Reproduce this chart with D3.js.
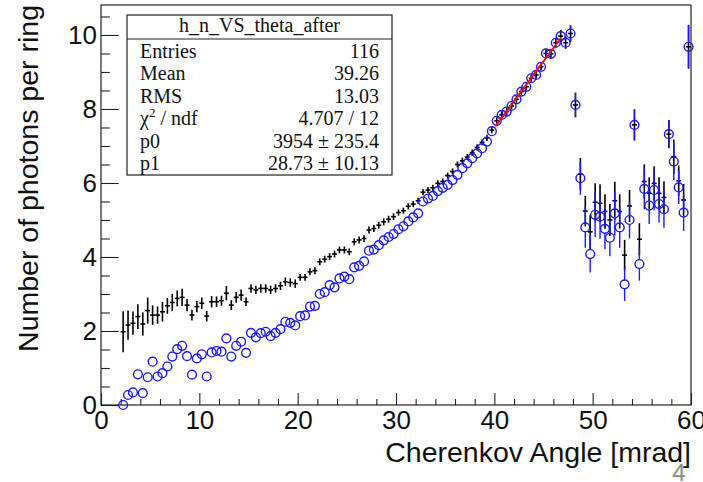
<!DOCTYPE html>
<html>
<head>
<meta charset="utf-8">
<script src="https://cdn.jsdelivr.net/npm/d3@7"></script>
<style>
  html, body { margin: 0; padding: 0; background: #ffffff; }
  svg { display: block; }
</style>
</head>
<body>
<svg id="chart" width="703" height="482"></svg>
<script>
// Bin centres of the Cherenkov angle histograms (0.5 mrad bins)
const angle = [
  2.25, 2.75, 3.25, 3.75, 4.25, 4.75, 5.25, 5.75, 6.25, 6.75,
  7.25, 7.75, 8.25, 8.75, 9.25, 9.75, 10.25, 10.75, 11.25, 11.75,
  12.25, 12.75, 13.25, 13.75, 14.25, 14.75, 15.25, 15.75, 16.25, 16.75,
  17.25, 17.75, 18.25, 18.75, 19.25, 19.75, 20.25, 20.75, 21.25, 21.75,
  22.25, 22.75, 23.25, 23.75, 24.25, 24.75, 25.25, 25.75, 26.25, 26.75,
  27.25, 27.75, 28.25, 28.75, 29.25, 29.75, 30.25, 30.75, 31.25, 31.75,
  32.25, 32.75, 33.25, 33.75, 34.25, 34.75, 35.25, 35.75, 36.25, 36.75,
  37.25, 37.75, 38.25, 38.75, 39.25, 39.75, 40.25, 40.75, 41.25, 41.75,
  42.25, 42.75, 43.25, 43.75, 44.25, 44.75, 45.25, 45.75, 46.25, 46.75,
  47.25, 47.75, 48.25, 48.75, 49.25, 49.75, 50.25, 50.75, 51.25, 51.75,
  52.25, 52.75, 53.25, 53.75, 54.25, 54.75, 55.25, 55.75, 56.25, 56.75,
  57.25, 57.75, 58.25, 58.75, 59.25, 59.75
];

// Photons per ring before the correction (black crosses)
const nBefore = [
  1.98, 2.16, 2.21, 2.39, 2.19, 2.55, 2.43, 2.43, 2.52, 2.68,
  2.77, 2.88, 2.91, 2.70, 2.43, 2.66, 2.75, 2.40, 2.79, 2.79,
  2.82, 3.02, 2.70, 2.91, 2.97, 2.79, 3.15, 3.11, 3.15, 3.15,
  3.11, 3.15, 3.22, 3.33, 3.31, 3.28, 3.45, 3.45, 3.60, 3.63,
  3.87, 3.94, 4.01, 4.08, 4.19, 4.19, 4.14, 4.41, 4.46, 4.50,
  4.73, 4.77, 4.86, 4.95, 5.02, 5.09, 5.20, 5.25, 5.37, 5.43,
  5.52, 5.75, 5.81, 5.87, 5.99, 6.04, 6.20, 6.31, 6.50, 6.60,
  6.70, 6.82, 6.96, 7.10, 7.22, 7.43, 7.68, 7.84, 7.93, 8.08,
  8.26, 8.47, 8.60, 8.83, 8.92, 9.14, 9.50, 9.49, 9.79, 9.97,
  9.79, 10.04, 8.11, 6.24, 5.24, 4.68, 5.48, 5.45, 5.23, 5.00,
  5.52, 5.23, 4.05, 5.38, 7.57, 4.48, 6.04, 5.72, 5.99, 5.72,
  5.61, 7.32, 6.71, 6.06, 5.54, 9.68
];
const errBefore = [
  0.54, 0.38, 0.30, 0.32, 0.30, 0.34, 0.25, 0.22, 0.25, 0.20,
  0.22, 0.20, 0.22, 0.15, 0.13, 0.14, 0.14, 0.13, 0.14, 0.13,
  0.12, 0.18, 0.12, 0.13, 0.14, 0.10, 0.10, 0.10, 0.10, 0.10,
  0.10, 0.10, 0.10, 0.10, 0.10, 0.10, 0.08, 0.08, 0.08, 0.08,
  0.08, 0.08, 0.08, 0.08, 0.08, 0.08, 0.08, 0.08, 0.08, 0.08,
  0.08, 0.08, 0.08, 0.08, 0.08, 0.08, 0.07, 0.07, 0.07, 0.07,
  0.07, 0.07, 0.07, 0.07, 0.07, 0.07, 0.07, 0.07, 0.07, 0.07,
  0.07, 0.07, 0.07, 0.07, 0.07, 0.07, 0.08, 0.08, 0.08, 0.08,
  0.08, 0.08, 0.08, 0.08, 0.08, 0.08, 0.10, 0.10, 0.12, 0.15,
  0.15, 0.21, 0.32, 0.42, 0.40, 0.45, 0.50, 0.50, 0.45, 0.42,
  0.50, 0.45, 0.40, 0.42, 0.41, 0.42, 0.45, 0.42, 0.45, 0.42,
  0.42, 0.37, 0.45, 0.40, 0.42, 0.58
];

// Photons per ring after the correction (blue circles)
const nAfter = [
  0.00, 0.27, 0.34, 0.83, 0.32, 0.75, 1.17, 0.77, 0.86, 1.04,
  1.31, 1.51, 1.60, 1.32, 0.82, 1.26, 1.37, 0.77, 1.42, 1.46,
  1.44, 1.80, 1.31, 1.60, 1.71, 1.41, 1.95, 1.83, 1.94, 1.98,
  1.86, 1.95, 2.05, 2.25, 2.22, 2.15, 2.40, 2.42, 2.66, 2.68,
  3.00, 3.05, 3.24, 3.18, 3.42, 3.47, 3.40, 3.72, 3.76, 3.88,
  4.17, 4.20, 4.32, 4.45, 4.54, 4.62, 4.75, 4.83, 4.96, 5.07,
  5.18, 5.50, 5.58, 5.65, 5.78, 5.87, 5.95, 6.08, 6.22, 6.40,
  6.53, 6.67, 6.80, 6.94, 7.12, 7.40, 7.68, 7.84, 7.93, 8.08,
  8.26, 8.47, 8.60, 8.83, 8.92, 9.14, 9.50, 9.49, 9.79, 9.97,
  9.79, 10.04, 8.11, 6.13, 4.80, 4.08, 5.14, 5.09, 4.76, 4.52,
  5.18, 4.80, 3.26, 5.00, 7.57, 3.81, 5.84, 5.39, 5.81, 5.43,
  5.29, 7.32, 6.58, 5.88, 5.20, 9.68
];
const errAfter = [
  0.05, 0.05, 0.05, 0.05, 0.05, 0.05, 0.05, 0.05, 0.05, 0.05,
  0.05, 0.05, 0.05, 0.05, 0.05, 0.05, 0.05, 0.05, 0.05, 0.05,
  0.05, 0.05, 0.05, 0.05, 0.05, 0.05, 0.05, 0.05, 0.05, 0.05,
  0.05, 0.05, 0.05, 0.05, 0.05, 0.05, 0.05, 0.05, 0.05, 0.05,
  0.05, 0.05, 0.05, 0.05, 0.05, 0.05, 0.05, 0.05, 0.05, 0.05,
  0.05, 0.05, 0.05, 0.05, 0.05, 0.05, 0.06, 0.06, 0.06, 0.06,
  0.06, 0.06, 0.06, 0.06, 0.06, 0.06, 0.07, 0.07, 0.07, 0.07,
  0.07, 0.07, 0.07, 0.07, 0.07, 0.07, 0.08, 0.08, 0.08, 0.08,
  0.08, 0.08, 0.08, 0.08, 0.08, 0.08, 0.10, 0.10, 0.12, 0.15,
  0.15, 0.21, 0.32, 0.45, 0.55, 0.50, 0.60, 0.60, 0.55, 0.50,
  0.60, 0.55, 0.45, 0.50, 0.41, 0.45, 0.55, 0.50, 0.55, 0.50,
  0.50, 0.37, 0.50, 0.45, 0.50, 0.58
];

// Fit curve sampled over the fit range
const fitAngle = [40.1, 41.4, 42.7, 44.0, 45.4, 46.8];
const fitValue = [7.53, 7.99, 8.46, 8.93, 9.43, 9.93];

// Axis ticks and labels
const xMajor = [0, 10, 20, 30, 40, 50, 60];
const xMinor = [2, 4, 6, 8, 12, 14, 16, 18, 22, 24, 26, 28, 32, 34, 36, 38, 42, 44, 46, 48, 52, 54, 56, 58];
const yMajor = [0, 2, 4, 6, 8, 10];
const yMinor = [0.5, 1, 1.5, 2.5, 3, 3.5, 4.5, 5, 5.5, 6.5, 7, 7.5, 8.5, 9, 9.5, 10.5];

// Statistics box contents
const statsTitle = "h_n_VS_theta_after";
const statsLabels = ["Entries", "Mean", "RMS", "chi2", "p0", "p1"];
const statsValues = ["116", "39.26", "13.03", "4.707 / 12", "3954 \u00b1 235.4", "28.73 \u00b1 10.13"];

const xTitle = "Cherenkov Angle [mrad]";
const yTitle = "Number of photons per ring";
const pageNumber = "4";

const svg = d3.select("#chart");
const frame = { left: 101, right: 691, top: 5, bottom: 405 };
const binHalf = 0.25;

const x = d3.scaleLinear().domain([0, 60]).range([frame.left, frame.right]);
const y = d3.scaleLinear().domain([0, 10.81]).range([frame.bottom, frame.top]);

const sans = "'Liberation Sans', Arial, Helvetica, sans-serif";
const serif = "'Liberation Serif', 'Times New Roman', serif";

// Frame
svg.append("rect")
  .attr("x", frame.left).attr("y", frame.top)
  .attr("width", frame.right - frame.left).attr("height", frame.bottom - frame.top)
  .attr("fill", "none").attr("stroke", "#222").attr("stroke-width", 1.2);

// Axes: ticks point into the frame
const xTickLen = 12, yTickLen = 17.7;
const gx = svg.append("g").attr("transform", `translate(0,${frame.bottom})`)
  .call(d3.axisBottom(x).tickValues(xMajor).tickSizeInner(-xTickLen).tickSizeOuter(0).tickPadding(6)
    .tickFormat(d3.format("d")));
const gxm = svg.append("g").attr("transform", `translate(0,${frame.bottom})`)
  .call(d3.axisBottom(x).tickValues(xMinor).tickSizeInner(-xTickLen / 2).tickSizeOuter(0).tickFormat(""));
const gy = svg.append("g").attr("transform", `translate(${frame.left},0)`)
  .call(d3.axisLeft(y).tickValues(yMajor).tickSizeInner(-yTickLen).tickSizeOuter(0).tickPadding(4)
    .tickFormat(d3.format("d")));
const gym = svg.append("g").attr("transform", `translate(${frame.left},0)`)
  .call(d3.axisLeft(y).tickValues(yMinor).tickSizeInner(-yTickLen / 2).tickSizeOuter(0).tickFormat(""));

[gx, gxm, gy, gym].forEach(g => {
  g.select(".domain").remove();
  g.selectAll(".tick line").attr("stroke", "#222").attr("stroke-width", 1.1);
  g.selectAll("text").attr("font-family", sans).attr("font-size", 26).attr("fill", "#111");
});

// Axis titles
svg.append("text")
  .attr("x", frame.right).attr("y", 462)
  .attr("text-anchor", "end")
  .attr("font-family", sans).attr("font-size", 28.5).attr("fill", "#111")
  .text(xTitle);
svg.append("text")
  .attr("transform", `translate(38,${frame.top}) rotate(-90)`)
  .attr("text-anchor", "end")
  .attr("font-family", sans).attr("font-size", 28.5).attr("fill", "#111")
  .text(yTitle);

const plot = svg.append("g");
const rows = angle.map((a, i) => ({ a, b: nBefore[i], eb: errBefore[i], c: nAfter[i], ec: errAfter[i] }));

// Black histogram: bin-width bars with vertical errors
const before = plot.append("g").attr("stroke", "#000").attr("stroke-width", 1.6);
before.selectAll("line.h").data(rows).join("line").attr("class", "h")
  .attr("x1", d => x(d.a - binHalf)).attr("x2", d => x(d.a + binHalf))
  .attr("y1", d => y(d.b)).attr("y2", d => y(d.b));
before.selectAll("line.v").data(rows).join("line").attr("class", "v")
  .attr("x1", d => x(d.a)).attr("x2", d => x(d.a))
  .attr("y1", d => y(d.b - d.eb) + 0.5).attr("y2", d => y(d.b + d.eb) - 0.5);

// Blue histogram: open circles, error bars drawn outside the marker
const r = 4.4;
const after = plot.append("g").attr("stroke", "#1a1aff").attr("stroke-width", 1.4);
const withBars = rows.filter(d => y(d.c - d.ec) - y(d.c) > r);
after.selectAll("line.up").data(withBars).join("line").attr("class", "up")
  .attr("x1", d => x(d.a)).attr("x2", d => x(d.a))
  .attr("y1", d => y(d.c + d.ec)).attr("y2", d => y(d.c) - r);
after.selectAll("line.dn").data(withBars).join("line").attr("class", "dn")
  .attr("x1", d => x(d.a)).attr("x2", d => x(d.a))
  .attr("y1", d => y(d.c) + r).attr("y2", d => Math.min(y(d.c - d.ec), frame.bottom));
after.selectAll("circle").data(rows).join("circle")
  .attr("cx", d => x(d.a)).attr("cy", d => y(d.c)).attr("r", r)
  .attr("fill", "none");

// Fit
const fitLine = d3.line().x(d => x(d[0])).y(d => y(d[1])).curve(d3.curveMonotoneX);
plot.append("path")
  .datum(fitAngle.map((a, i) => [a, fitValue[i]]))
  .attr("d", fitLine)
  .attr("fill", "none").attr("stroke", "#ee1111").attr("stroke-width", 2);

// Statistics box
const box = { x: 127, y: 15, w: 265, h: 160, head: 24 };
const stats = svg.append("g");
stats.append("rect")
  .attr("x", box.x).attr("y", box.y).attr("width", box.w).attr("height", box.h)
  .attr("fill", "#fff").attr("stroke", "#222").attr("stroke-width", 1.2);
stats.append("line")
  .attr("x1", box.x).attr("x2", box.x + box.w)
  .attr("y1", box.y + box.head).attr("y2", box.y + box.head)
  .attr("stroke", "#222").attr("stroke-width", 1.2);
stats.append("text")
  .attr("x", box.x + box.w / 2).attr("y", 32)
  .attr("text-anchor", "middle")
  .attr("font-family", serif).attr("font-size", 20).attr("fill", "#111")
  .text(statsTitle);
const rowY = d3.scaleLinear().domain([0, 5]).range([57.7, 170]);
statsLabels.forEach((lab, i) => {
  const t = stats.append("text")
    .attr("x", 140).attr("y", rowY(i))
    .attr("font-family", serif).attr("font-size", 20).attr("fill", "#111");
  if (lab === "chi2") {
    t.append("tspan").text("\u03c7");
    t.append("tspan").attr("font-size", 13).attr("dy", -8).text("2");
    t.append("tspan").attr("dy", 8).text(" / ndf");
  } else {
    t.text(lab);
  }
  stats.append("text")
    .attr("x", 379).attr("y", rowY(i))
    .attr("text-anchor", "end")
    .attr("font-family", serif).attr("font-size", 20).attr("fill", "#111")
    .text(statsValues[i]);
});

// Page number
svg.append("text")
  .attr("x", 679).attr("y", 481)
  .attr("text-anchor", "middle")
  .attr("font-family", sans).attr("font-size", 24).attr("fill", "#8a8a8a")
  .text(pageNumber);
</script>
</body>
</html>
